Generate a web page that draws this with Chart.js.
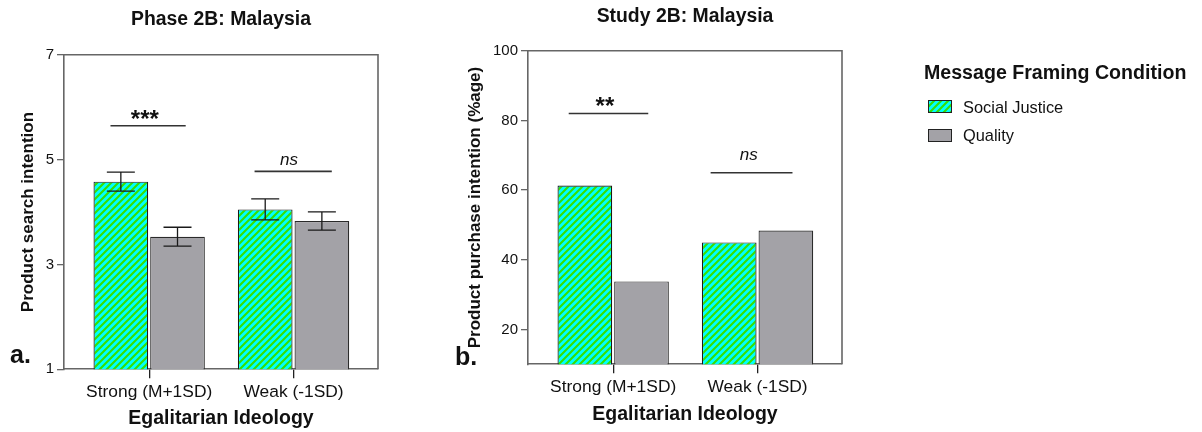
<!DOCTYPE html>
<html>
<head>
<meta charset="utf-8">
<script src="https://cdn.jsdelivr.net/npm/chart.js@4.4.1/dist/chart.umd.min.js"></script>
<style>
  html, body { margin: 0; padding: 0; background: #fff; }
  body { width: 1202px; height: 432px; position: relative; overflow: hidden;
         font-family: 'Liberation Sans', Arial, Helvetica, sans-serif; color: #111; }
  canvas.panel { position: absolute; top: 0; }
  #panelA { left: 0; }
  #panelB { left: 440px; }
  .legend-title { position: absolute; left: 924px; top: 61px; font-size: 19.6px; font-weight: bold;
                  line-height: 22px; white-space: nowrap; }
  .legend-box { position: absolute; left: 928px; }
  .legend-text { position: absolute; left: 963px; font-size: 16.4px; line-height: 18px; white-space: nowrap; }
</style>
</head>
<body>
<canvas id="panelA" class="panel" width="442" height="432"></canvas>
<canvas id="panelB" class="panel" width="490" height="432"></canvas>
<div class="legend-title">Message Framing Condition</div>
<div id="legendItems"></div>

<script>
// Shared categories and series
const categories = ['Strong (M+1SD)', 'Weak (-1SD)'];
const seriesNames = ['Social Justice', 'Quality'];

// Phase 2B: product search intention (means and standard errors)
const searchSocialJustice = [4.58, 4.05];
const searchQuality = [3.53, 3.83];
const searchSocialJusticeErr = [0.18, 0.20];
const searchQualityErr = [0.18, 0.175];
const searchTicks = [1, 3, 5, 7];

// Study 2B: product purchase intention (%)
const purchaseSocialJustice = [61.3, 45.0];
const purchaseQuality = [33.8, 48.4];
const purchaseTicks = [20, 40, 60, 80, 100];

const FONT = "'Liberation Sans', Arial, Helvetica, sans-serif";
Chart.defaults.font.family = FONT;
Chart.defaults.color = '#111';

const CYAN = '#00ffff';
const STRIPE = '#36e000';
const GREY = '#a3a2a7';

// Cyan fill with diagonal green hatching
function stripePattern(ctx) {
  const s = 7;
  const c = document.createElement('canvas');
  c.width = s; c.height = s;
  const g = c.getContext('2d');
  g.fillStyle = CYAN;
  g.fillRect(0, 0, s, s);
  g.strokeStyle = STRIPE;
  g.lineWidth = 2.1;
  g.beginPath();
  g.moveTo(0, s); g.lineTo(s, 0);
  g.moveTo(-s / 2, s / 2); g.lineTo(s / 2, -s / 2);
  g.moveTo(s / 2, s * 1.5); g.lineTo(s * 1.5, s / 2);
  g.stroke();
  return ctx.createPattern(c, 'repeat');
}

// Error bars drawn from each dataset's errorBars array
const errorBarPlugin = {
  id: 'errorBars',
  afterDatasetsDraw(chart) {
    const { ctx } = chart;
    const y = chart.scales.y;
    chart.data.datasets.forEach((ds, di) => {
      if (!ds.errorBars) return;
      const meta = chart.getDatasetMeta(di);
      meta.data.forEach((bar, i) => {
        const v = ds.data[i].y, e = ds.errorBars[i];
        const top = y.getPixelForValue(v + e);
        const bot = y.getPixelForValue(v - e);
        const half = 14;
        ctx.save();
        ctx.strokeStyle = '#1a1a1a';
        ctx.lineWidth = 1.3;
        ctx.beginPath();
        ctx.moveTo(bar.x, top); ctx.lineTo(bar.x, bot);
        ctx.moveTo(bar.x - half, top); ctx.lineTo(bar.x + half, top);
        ctx.moveTo(bar.x - half, bot); ctx.lineTo(bar.x + half, bot);
        ctx.stroke();
        ctx.restore();
      });
    });
  }
};

// Top and right edges of the plot frame
const framePlugin = {
  id: 'frame',
  afterDraw(chart) {
    const { ctx, chartArea: a } = chart;
    ctx.save();
    ctx.strokeStyle = '#666';
    ctx.lineWidth = 1.6;
    ctx.beginPath();
    ctx.moveTo(a.left, a.top);
    ctx.lineTo(a.right, a.top);
    ctx.lineTo(a.right, a.bottom);
    ctx.stroke();
    ctx.restore();
  }
};

// Significance brackets: a horizontal line in data units with a label above it
const significancePlugin = {
  id: 'significance',
  afterDatasetsDraw(chart, args, opts) {
    const { ctx } = chart;
    const xs = chart.scales.x, ys = chart.scales.y;
    (opts.marks || []).forEach(m => {
      const py = ys.getPixelForValue(m.y);
      ctx.save();
      ctx.strokeStyle = '#333';
      ctx.lineWidth = 1.6;
      ctx.beginPath();
      ctx.moveTo(xs.getPixelForValue(m.from), py);
      ctx.lineTo(xs.getPixelForValue(m.to), py);
      ctx.stroke();
      ctx.fillStyle = '#111';
      ctx.font = m.font + ' ' + FONT;
      ctx.textAlign = 'center';
      ctx.textBaseline = 'alphabetic';
      ctx.fillText(m.text, xs.getPixelForValue(m.textAt), py + m.dy);
      ctx.restore();
    });
  }
};

// Panel letter (a., b.)
const panelLabelPlugin = {
  id: 'panelLabel',
  afterDraw(chart, args, opts) {
    if (!opts.text) return;
    const { ctx } = chart;
    ctx.save();
    ctx.fillStyle = '#111';
    ctx.font = 'bold 25px ' + FONT;
    ctx.textAlign = 'left';
    ctx.textBaseline = 'alphabetic';
    ctx.fillText(opts.text, opts.x, opts.y);
    ctx.restore();
  }
};

function buildChart(canvas, cfg) {
  const ctx = canvas.getContext('2d');
  return new Chart(ctx, {
    type: 'bar',
    data: {
      datasets: [
        {
          label: seriesNames[0],
          data: cfg.sj.map((v, i) => ({ x: i, y: v })),
          backgroundColor: stripePattern(ctx),
          borderColor: '#1a1a1a',
          borderWidth: 1.2,
          categoryPercentage: 0.785,
          barPercentage: 0.965,
          errorBars: cfg.sjErr
        },
        {
          label: seriesNames[1],
          data: cfg.q.map((v, i) => ({ x: i, y: v })),
          backgroundColor: GREY,
          borderColor: '#2a2a2a',
          borderWidth: 1.2,
          categoryPercentage: 0.785,
          barPercentage: 0.965,
          errorBars: cfg.qErr
        }
      ]
    },
    options: {
      responsive: false,
      animation: false,
      devicePixelRatio: 1,
      layout: { padding: 0 },
      plugins: {
        legend: { display: false },
        tooltip: { enabled: false },
        title: {
          display: true,
          text: cfg.title,
          color: '#111',
          font: { size: 19.4, weight: 'bold' },
          padding: { top: cfg.titleTop, bottom: cfg.titleBottom }
        },
        significance: { marks: cfg.marks },
        panelLabel: cfg.panel
      },
      scales: {
        x: {
          type: 'linear',
          min: -0.59,
          max: 1.585,
          offset: false,
          afterBuildTicks: s => { s.ticks = categories.map((_, i) => ({ value: i })); },
          afterFit: s => { s.height = cfg.xAxisHeight; },
          ticks: {
            callback: v => categories[v],
            font: { size: 17.4 },
            color: '#111',
            padding: 3,
            maxRotation: 0,
            autoSkip: false
          },
          grid: { offset: false, drawOnChartArea: false, drawTicks: true, tickLength: 9, color: '#222', lineWidth: 1.3 },
          border: { display: true, color: '#666', width: 1.6 },
          title: {
            display: true,
            text: 'Egalitarian Ideology',
            color: '#111',
            font: { size: 19.5, weight: 'bold' },
            padding: { top: 0, bottom: cfg.xTitlePad }
          }
        },
        y: {
          min: cfg.yMin,
          max: cfg.yMax,
          afterBuildTicks: s => { s.ticks = cfg.ticks.map(v => ({ value: v })); },
          afterFit: s => { s.width = cfg.yAxisWidth; },
          ticks: { font: { size: 15 }, color: '#111', padding: 3 },
          grid: { drawOnChartArea: false, drawTicks: true, tickLength: 7, color: '#666', lineWidth: 1.3 },
          border: { display: true, color: '#666', width: 1.6 },
          title: {
            display: true,
            text: cfg.yTitle,
            color: '#111',
            font: { size: 17, weight: 'bold' },
            padding: { top: cfg.yTitlePad, bottom: 0 }
          }
        },
        // empty right-hand axis that balances the left one so titles centre on the plot
        balance: {
          type: 'linear',
          position: 'right',
          display: true,
          ticks: { display: false },
          grid: { display: false },
          border: { display: false },
          afterFit: s => { s.width = cfg.yAxisWidth; }
        }
      }
    },
    plugins: [errorBarPlugin, framePlugin, significancePlugin, panelLabelPlugin]
  });
}

buildChart(document.getElementById('panelA'), {
  title: 'Phase 2B: Malaysia',
  titleTop: 8.3, titleBottom: 23.2,
  sj: searchSocialJustice, q: searchQuality,
  sjErr: searchSocialJusticeErr, qErr: searchQualityErr,
  yMin: 1, yMax: 7, ticks: searchTicks,
  yTitle: 'Product search intention', yTitlePad: 18,
  yAxisWidth: 64, xAxisHeight: 62.7, xTitlePad: 2.0,
  marks: [
    { from: -0.268, to: 0.253, y: 5.646, text: '***', textAt: -0.03, font: 'bold 24px', dy: 1 },
    { from: 0.730, to: 1.265, y: 4.776, text: 'ns', textAt: 0.969, font: 'italic 17px', dy: -6.3 }
  ],
  panel: { text: 'a.', x: 10, y: 363 }
});

buildChart(document.getElementById('panelB'), {
  title: 'Study 2B: Malaysia',
  titleTop: 4.9, titleBottom: 22.6,
  sj: purchaseSocialJustice, q: purchaseQuality,
  sjErr: null, qErr: null,
  yMin: 10, yMax: 100, ticks: purchaseTicks,
  yTitle: 'Product purchase intention (%age)', yTitlePad: 24.8,
  yAxisWidth: 88, xAxisHeight: 67.7, xTitlePad: 5.3,
  marks: [
    { from: -0.308, to: 0.243, y: 82.0, text: '**', textAt: -0.057, font: 'bold 24px', dy: 1 },
    { from: 0.675, to: 1.242, y: 65.0, text: 'ns', textAt: 0.939, font: 'italic 17px', dy: -12.7 }
  ],
  panel: { text: 'b.', x: 15, y: 365 }
});

// Legend built from the series names
(function buildLegend() {
  const host = document.getElementById('legendItems');
  const boxTops = [100, 128.5];
  const textTops = [97.7, 126];
  seriesNames.forEach((name, i) => {
    const box = document.createElement('canvas');
    box.className = 'legend-box';
    box.width = 24; box.height = 13;
    box.style.top = boxTops[i] + 'px';
    const g = box.getContext('2d');
    g.fillStyle = i === 0 ? stripePattern(g) : GREY;
    g.fillRect(0, 0, 24, 13);
    g.strokeStyle = '#222';
    g.lineWidth = 1;
    g.strokeRect(0.5, 0.5, 23, 12);
    host.appendChild(box);
    const t = document.createElement('div');
    t.className = 'legend-text';
    t.style.top = textTops[i] + 'px';
    t.textContent = name;
    host.appendChild(t);
  });
})();
</script>
</body>
</html>
